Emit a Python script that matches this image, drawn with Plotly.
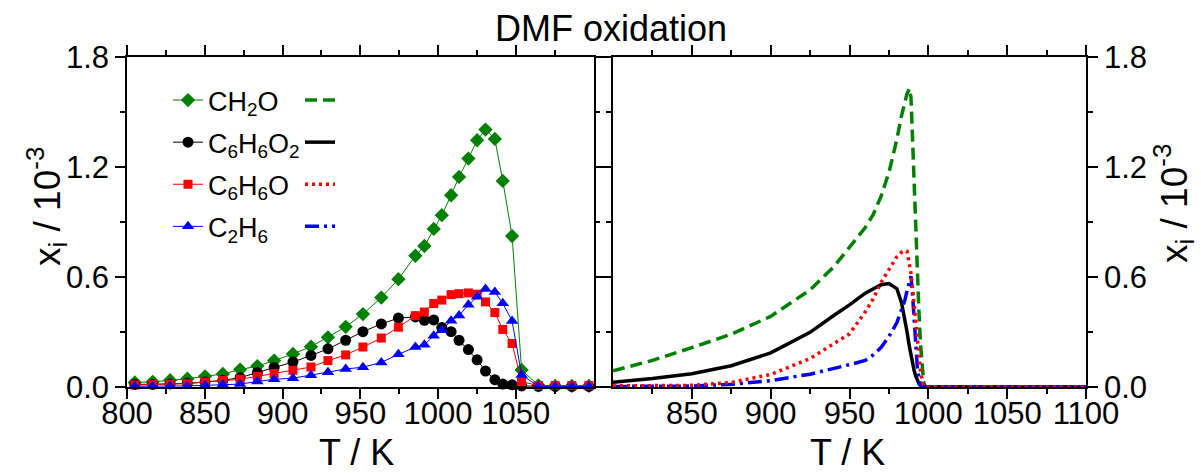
import plotly.graph_objects as go

# ---------------- data ----------------
species = ["CH<sub>2</sub>O", "C<sub>6</sub>H<sub>6</sub>O<sub>2</sub>",
           "C<sub>6</sub>H<sub>6</sub>O", "C<sub>2</sub>H<sub>6</sub>"]

# experiment (left panel)
T_exp = [805.0, 816.5, 827.7, 838.8, 850.2, 861.6, 872.7, 883.8, 894.6, 906.7,
         918.3, 929.2, 940.6, 951.7, 963.5, 974.5, 985.4, 991.2, 997.2, 1002.4,
         1008.4, 1013.5, 1019.5, 1025.1, 1030.5, 1036.5, 1041.6, 1047.6, 1053.7,
         1064.5, 1075.3, 1086.0, 1097.0]
exp_ch2o = [0.025, 0.028, 0.037, 0.045, 0.058, 0.071, 0.095, 0.114, 0.144, 0.180,
            0.220, 0.271, 0.328, 0.398, 0.488, 0.588, 0.716, 0.769, 0.862, 0.937,
            1.046, 1.146, 1.246, 1.346, 1.404, 1.353, 1.124, 0.823, 0.093,
            0.009, 0.006, 0.006, 0.006]
exp_c6h6o2 = [0.014, 0.014, 0.017, 0.020, 0.027, 0.036, 0.051, 0.078, 0.107, 0.136,
              0.172, 0.208, 0.255, 0.302, 0.344, 0.376, 0.382, 0.364, 0.366, 0.324,
              0.302, 0.255, 0.204, 0.148, 0.087, 0.040, 0.016, 0.012, 0.006,
              0.004, 0.003, 0.003, 0.003]
exp_c6h6o = [0.011, 0.013, 0.015, 0.018, 0.027, 0.036, 0.042, 0.058, 0.073, 0.091,
             0.109, 0.144, 0.175, 0.218, 0.267, 0.326, 0.389, 0.409, 0.455, 0.474,
             0.504, 0.509, 0.513, 0.506, 0.464, 0.406, 0.314, 0.237, 0.029,
             0.008, 0.008, 0.008, 0.008]
exp_c2h6 = [0.004, 0.004, 0.006, 0.006, 0.009, 0.013, 0.016, 0.030, 0.042, 0.048,
            0.064, 0.080, 0.098, 0.108, 0.134, 0.178, 0.218, 0.230, 0.280, 0.310,
            0.362, 0.390, 0.448, 0.492, 0.535, 0.518, 0.457, 0.360, 0.066,
            0.004, 0.003, 0.003, 0.003]

# model (right panel)
T_mod = [800, 825, 850, 875, 900, 925, 940, 950, 960, 965, 970, 975, 980, 983, 985,
         986.5, 988, 989, 990, 991, 992, 993, 994, 995, 996, 997, 998, 1000, 1050, 1100]
mod_ch2o = [0.088, 0.145, 0.215, 0.288, 0.385, 0.530, 0.655, 0.760, 0.870, 0.940,
            1.040, 1.170, 1.350, 1.480, 1.560, 1.600, 1.628, 1.580, 1.350, 1.100,
            0.820, 0.620, 0.420, 0.240, 0.110, 0.030, 0.0, 0.0, 0.0, 0.0]
mod_c6h6o2 = [0.026, 0.046, 0.072, 0.116, 0.186, 0.298, 0.390, 0.448, 0.512, 0.537,
              0.558, 0.564, 0.537, 0.460, 0.380, 0.300, 0.220, 0.170, 0.130, 0.090,
              0.060, 0.035, 0.018, 0.007, 0.002, 0.0, 0.0, 0.0, 0.0, 0.0]
mod_c6h6o = [0.006, 0.007, 0.009, 0.025, 0.068, 0.155, 0.235, 0.290, 0.410, 0.480,
             0.570, 0.640, 0.710, 0.735, 0.745, 0.740, 0.680, 0.620, 0.540, 0.450,
             0.340, 0.240, 0.150, 0.090, 0.040, 0.010, 0.0, 0.0, 0.0, 0.0]
mod_c2h6 = [0.003, 0.004, 0.005, 0.015, 0.035, 0.070, 0.100, 0.122, 0.145, 0.175,
            0.215, 0.275, 0.350, 0.420, 0.470, 0.525, 0.580, 0.605, 0.500, 0.380,
            0.200, 0.110, 0.050, 0.010, 0.0, 0.0, 0.0, 0.0, 0.0, 0.0]

x_left_ticks = [800, 850, 900, 950, 1000, 1050]
x_right_ticks = [850, 900, 950, 1000, 1050, 1100]
x_minor = [825, 875, 925, 975, 1025, 1075]
y_ticks = [0.0, 0.6, 1.2, 1.8]
y_labels = ["0.0", "0.6", "1.2", "1.8"]
y_minor = [0.3, 0.9, 1.5]
x_title = "T / K"
y_title = "x<sub>i</sub> / 10<sup>-3</sup>"
plot_title = "DMF oxidation"

# ---------------- style ----------------
colors = ["#008000", "#000000", "#FF0000", "#0000FF"]
symbols = ["diamond", "circle", "square", "triangle-up"]
msizes = [11, 11, 9, 11]
dashes = ["12px,6px", "solid", "3px,4px", "14px,5px,3px,5px"]
FAM = "Liberation Sans, Arial, sans-serif"
TICKFONT = dict(family=FAM, size=31, color="black")

fig = go.Figure()

exp_series = [exp_ch2o, exp_c6h6o2, exp_c6h6o, exp_c2h6]
for i, vals in enumerate(exp_series):
    fig.add_trace(go.Scatter(
        x=T_exp, y=vals, mode="lines+markers", name=species[i],
        line=dict(color=colors[i], width=1),
        marker=dict(symbol=symbols[i], size=msizes[i], color=colors[i]),
        xaxis="x", yaxis="y", legend="legend", legendgroup="e%d" % i,
        legendrank=i + 1, cliponaxis=False))

mod_series = [mod_ch2o, mod_c6h6o2, mod_c6h6o, mod_c2h6]
for i in [0, 1, 3, 2]:
    fig.add_trace(go.Scatter(
        x=T_mod, y=mod_series[i], mode="lines", name=" ",
        line=dict(color=colors[i], width=3.5, dash=dashes[i]),
        xaxis="x2", yaxis="y2", legend="legend2", legendgroup="m%d" % i,
        legendrank=i + 1, cliponaxis=False))

W, H = 1201, 473
ml, mr, mt, mb = 127, 115, 57, 86
pw = W - ml - mr


def px2paper_x(px):
    return (px - ml) / pw


def px2paper_y(py):
    return (H - mb - py) / (H - mt - mb)


common_x = dict(range=[800, 1100], tickmode="array",
                ticks="outside", ticklen=10, tickwidth=1.5, tickcolor="black",
                showline=True, linewidth=1.5, linecolor="black", mirror="allticks",
                showgrid=False, zeroline=False, tickfont=TICKFONT, automargin=False,
                ticklabelstandoff=-12)
minor_x = dict(tickmode="array", tickvals=x_minor, ticks="outside",
               ticklen=5, tickwidth=1.5, tickcolor="black")
common_y = dict(range=[0, 1.8], tickmode="array", tickvals=y_ticks, ticktext=y_labels,
                ticks="outside", ticklen=10, tickwidth=1.5, tickcolor="black",
                showline=True, linewidth=1.5, linecolor="black", mirror="allticks",
                showgrid=False, zeroline=False, tickfont=TICKFONT, automargin=False,
                minor=dict(tickmode="array", tickvals=y_minor, ticks="outside",
                           ticklen=5, tickwidth=1.5, tickcolor="black"))

ann = [
    dict(text=plot_title, x=px2paper_x(611), y=px2paper_y(29), textangle=0,
         font=dict(family=FAM, size=36, color="black")),
    dict(text=x_title, x=px2paper_x(356), y=px2paper_y(452), textangle=0,
         font=dict(family=FAM, size=36, color="black")),
    dict(text=x_title, x=px2paper_x(847), y=px2paper_y(452), textangle=0,
         font=dict(family=FAM, size=36, color="black")),
    dict(text=y_title, x=px2paper_x(46), y=px2paper_y(207), textangle=-90,
         font=dict(family=FAM, size=37, color="black")),
    dict(text=y_title, x=px2paper_x(1173), y=px2paper_y(204), textangle=-90,
         font=dict(family=FAM, size=37, color="black")),
]
for a in ann:
    a.update(xref="paper", yref="paper", xanchor="center", yanchor="middle",
             showarrow=False)

fig.update_layout(
    width=W, height=H,
    margin=dict(l=ml, r=mr, t=mt, b=mb, pad=0),
    paper_bgcolor="white", plot_bgcolor="white",
    font=dict(family=FAM, color="black"),
    xaxis=dict(domain=[0, px2paper_x(593.6)], anchor="y",
               tickvals=x_left_ticks, minor=minor_x, **common_x),
    xaxis2=dict(domain=[px2paper_x(613), 1], anchor="y2",
                tickvals=x_right_ticks, minor=minor_x, **common_x),
    yaxis=dict(domain=[0, 1], anchor="x", side="left", **common_y),
    yaxis2=dict(domain=[0, 1], anchor="x2", side="right", **common_y),
    showlegend=True,
    legend=dict(x=px2paper_x(168), y=px2paper_y(76), xanchor="left", yanchor="top",
                font=dict(family=FAM, size=27, color="black"),
                tracegroupgap=4, bgcolor="rgba(0,0,0,0)", borderwidth=0,
                traceorder="grouped"),
    legend2=dict(x=px2paper_x(300), y=px2paper_y(76), xanchor="left", yanchor="top",
                 font=dict(family=FAM, size=27, color="black"),
                 tracegroupgap=4, bgcolor="rgba(0,0,0,0)", borderwidth=0,
                 traceorder="grouped"),
    annotations=ann,
)

fig.write_html("out.html")
